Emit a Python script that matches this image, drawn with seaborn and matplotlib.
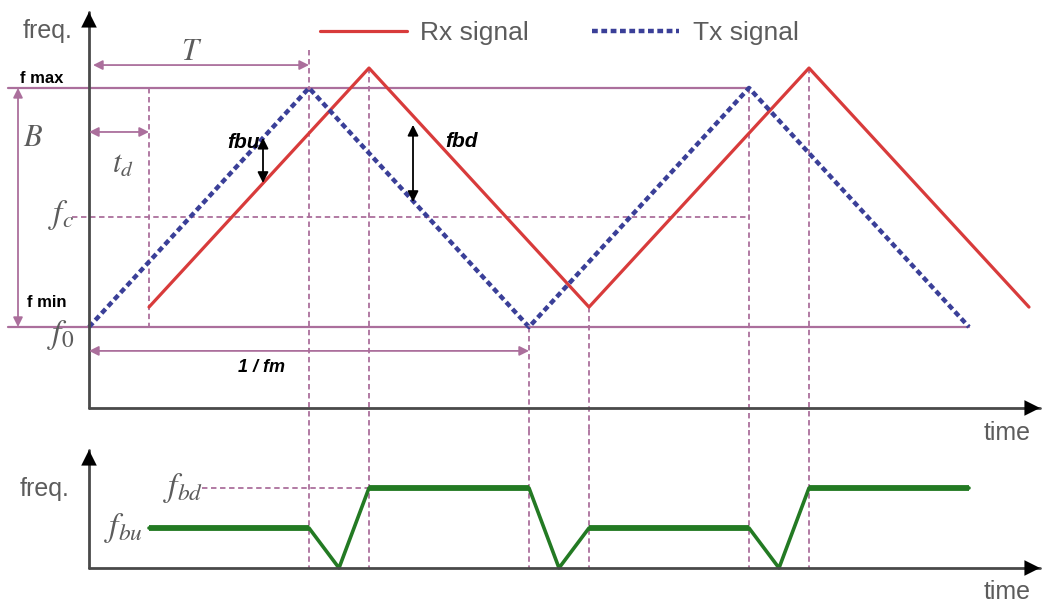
import numpy as np
import pandas as pd
import seaborn as sns
from matplotlib import pyplot as plt

# time axis (arbitrary units) and frequency levels
tx_time = [0.0, 2.2, 4.4, 6.6, 8.8]
tx_freq = [0.0, 2.4, 0.0, 2.4, 0.0]
rx_time = [0.6, 2.8, 5.0, 7.2, 9.4]
rx_freq = [0.2, 2.6, 0.2, 2.6, 0.2]
beat_time = [0.6, 2.2, 2.5, 2.8, 4.4, 4.7, 5.0, 6.6, 6.9, 7.2, 8.8]
beat_freq = [0.4, 0.4, 0.0, 0.8, 0.8, 0.0, 0.4, 0.4, 0.0, 0.8, 0.8]
f_min, f_c, f_max = 0.0, 1.1, 2.4
f_bu, f_bd = 0.4, 0.8
t_d, period_T, period_m = 0.6, 2.2, 4.4

MAUVE = '#ab6f9c'
AXC = '#4a4a4a'
TXT = '#5c5c5c'
RED = '#d83b3b'
BLUE = '#3a3f98'
GREEN = '#237a23'


def axis_arrow(ax, start, end):
    # gray shaft, black head
    ax.plot([start[0], end[0]], [start[1], end[1]], color=AXC, lw=2)
    ax.annotate('', xy=end, xytext=start,
                arrowprops=dict(arrowstyle='-|>', color='black', lw=0.01,
                                mutation_scale=28, shrinkA=0, shrinkB=0))


def span_arrow(ax, start, end, color=MAUVE, lw=1.3, ms=14):
    ax.annotate('', xy=end, xytext=start,
                arrowprops=dict(arrowstyle='<|-|>', color=color, lw=lw,
                                mutation_scale=ms, shrinkA=0, shrinkB=0))


sns.set_theme(style="white")
plt.rcParams['font.family'] = ['Liberation Sans', 'DejaVu Sans']
plt.rcParams['mathtext.fontset'] = 'stix'

fig = plt.figure(figsize=(10.42, 6.04), dpi=100)
ax = fig.add_axes([0, 174 / 604, 1, 430 / 604])
axb = fig.add_axes([0, 0, 1, 174 / 604])
for a in (ax, axb):
    a.set_xlim(-0.89, 9.53)
    a.set_axis_off()
ax.set_ylim((327 - 430) / 99.6, 327 / 99.6)
axb.set_ylim(-0.36, 1.38)

top_axis_y = -0.813
dash = (0, (3, 2))

# reference lines
ax.plot([-0.81, tx_time[3]], [f_max, f_max], color=MAUVE, lw=1.6)
ax.plot([-0.81, tx_time[4]], [f_min, f_min], color=MAUVE, lw=1.6)
ax.plot([-0.17, tx_time[3]], [f_c, f_c], color=MAUVE, lw=1.3, ls=dash)
axb.plot([1.13, rx_time[1]], [f_bd, f_bd], color=MAUVE, lw=1.3, ls=dash)

# dashed verticals at every turning point
ax.plot([t_d, t_d], [f_max, f_min], color=MAUVE, lw=1.3, ls=dash)
turns = sorted(set(tx_time[1:4] + rx_time[1:4]))
for t in turns:
    if t in tx_time:
        top = tx_freq[tx_time.index(t)]
    else:
        top = rx_freq[rx_time.index(t)]
    if t == period_T:
        top = 2.78
    ax.plot([t, t], [top, ax.get_ylim()[0]], color=MAUVE, lw=1.3, ls=dash)
    axb.plot([t, t], [axb.get_ylim()[1], 0], color=MAUVE, lw=1.3, ls=dash)

# signals
sns.lineplot(x=rx_time, y=rx_freq, ax=ax, color=RED, lw=2.3, sort=False,
             estimator=None, label='Rx signal')
sns.lineplot(x=tx_time, y=tx_freq, ax=ax, color=BLUE, lw=3.2, sort=False,
             estimator=None, label='Tx signal', linestyle=(0, (1.3, 0.8)))
sns.lineplot(x=beat_time, y=beat_freq, ax=axb, color=GREEN, lw=2.6,
             sort=False, estimator=None, legend=False)
beat = pd.DataFrame({'t': beat_time, 'f': beat_freq})
for i in range(len(beat) - 1):
    if beat.f[i] == beat.f[i + 1]:
        axb.plot(beat.t[i:i + 2], beat.f[i:i + 2], color=GREEN, lw=4.2,
                 solid_capstyle='butt')

leg = ax.legend(loc='center left', bbox_to_anchor=(320 / 1042, 1 - 33 / 430),
                bbox_transform=ax.transAxes, ncol=2, frameon=False,
                fontsize=19, handlelength=3.3, handletextpad=0.5,
                columnspacing=2.4, borderpad=0, borderaxespad=0)
for t in leg.get_texts():
    t.set_color(TXT)

# axes of the diagram
axis_arrow(ax, (0, top_axis_y), (0, 3.163))
axis_arrow(ax, (0, top_axis_y), (9.51, top_axis_y))
axis_arrow(axb, (0, 0), (0, 1.18))
axis_arrow(axb, (0, 0), (9.51, 0))

# spans
span_arrow(ax, (0.04, 2.63), (period_T, 2.63))
span_arrow(ax, (-0.71, f_max), (-0.71, f_min))
span_arrow(ax, (0.0, 1.958), (t_d, 1.958))
span_arrow(ax, (0.0, -0.24), (period_m, -0.24))
span_arrow(ax, (1.74, 1.90), (1.74, 1.446), color='black', ms=16)
span_arrow(ax, (3.24, 2.03), (3.24, 1.255), color='black', ms=16)

# labels
ax.text(-0.41, 2.97, 'freq.', fontsize=18, color=TXT, ha='center', va='center')
ax.text(9.18, -1.064, 'time', fontsize=18, color=TXT, ha='center', va='center')
axb.text(-0.44, 0.79, 'freq.', fontsize=18, color=TXT, ha='center', va='center')
axb.text(9.18, -0.24, 'time', fontsize=18, color=TXT, ha='center', va='center')
ax.text(1.03, 2.76, '$T$', fontsize=22, color=TXT, ha='center', va='center')
ax.text(-0.56, 1.90, '$B$', fontsize=22, color=TXT, ha='center', va='center')
ax.text(0.34, 1.63, '$t_d$', fontsize=22, color=TXT, ha='center', va='center')
ax.text(-0.28, 1.12, '$f_c$', fontsize=24, color=TXT, ha='center', va='center')
ax.text(-0.28, -0.08, '$f_0$', fontsize=24, color=TXT, ha='center', va='center')
axb.text(0.94, 0.80, '$f_{bd}$', fontsize=24, color=TXT, ha='center', va='center')
axb.text(0.34, 0.40, '$f_{bu}$', fontsize=24, color=TXT, ha='center', va='center')
ax.text(-0.47, 2.5, 'f max', fontsize=12, weight='bold', color='black',
        ha='center', va='center')
ax.text(-0.42, 0.25, 'f min', fontsize=12, weight='bold', color='black',
        ha='center', va='center')
ax.text(1.73, -0.41, '1 / fm', fontsize=13, weight='bold', style='italic',
        color='black', ha='center', va='center')
ax.text(1.71, 1.85, 'fbu', fontsize=15, weight='bold', style='italic',
        color='black', ha='right', va='center')
ax.text(3.56, 1.86, 'fbd', fontsize=15, weight='bold', style='italic',
        color='black', ha='left', va='center')

fig.savefig('out.png', dpi=100)
